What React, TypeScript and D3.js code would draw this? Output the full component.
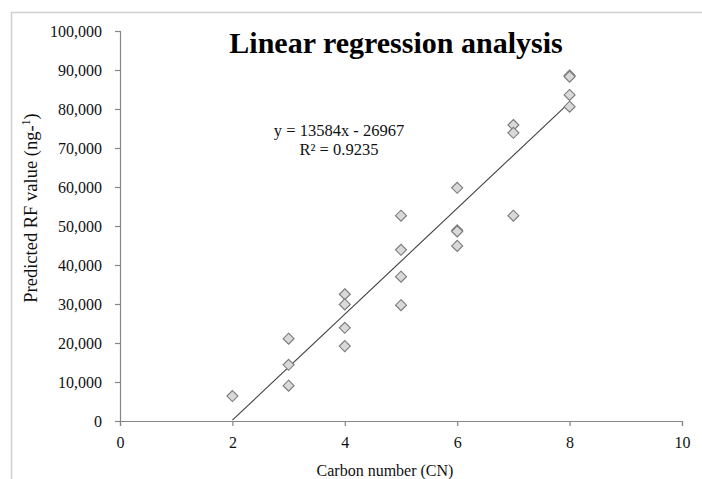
import React, { useEffect, useRef } from "react";
import * as d3 from "d3";

// carbon number of each compound and its predicted RF value
const carbonNumbers = [2, 3, 3, 3, 4, 4, 4, 4, 5, 5, 5, 5, 6, 6, 6, 6, 7, 7, 7, 8, 8, 8, 8];
const rfValues = [
  6400, 21100, 14400, 9050, 32500, 29900, 23900, 19200, 52650, 43900, 37000, 29700,
  59800, 48900, 48600, 44900, 75900, 73900, 52650, 88600, 88300, 83600, 80600,
];

// trend line (from the chart's equation)
const slope = 13584;
const intercept = -26967;
const fitRange = [2, 8];
const equationLines = ["y = 13584x - 26967", "R² = 0.9235"];

const xTicks = [0, 2, 4, 6, 8, 10];
const yTicks = [0, 10000, 20000, 30000, 40000, 50000, 60000, 70000, 80000, 90000, 100000];

const title = "Linear regression analysis";
const xTitle = "Carbon number (CN)";
const yTitle = "Predicted RF value (ng-";

const FONT = "'Liberation Serif', 'Times New Roman', serif";

const App = () => {
  const ref = useRef<SVGSVGElement>(null);

  useEffect(() => {
    const svg = d3.select(ref.current);
    svg.selectAll("*").remove();

    const width = 702;
    const height = 479;
    const margin = { top: 31, right: 20, bottom: 58, left: 120 };

    svg.attr("width", width).attr("height", height);

    svg.append("rect").attr("width", width).attr("height", height).attr("fill", "#fff");

    // outer chart frame (cut off on the right and bottom)
    svg.append("path")
      .attr("d", `M11.5,${height} L11.5,12.5 L${width},12.5`)
      .attr("fill", "none")
      .attr("stroke", "#d0d0d0")
      .attr("stroke-width", 1.5);

    const x = d3.scaleLinear().domain([0, 10]).range([margin.left, 682]);
    const y = d3.scaleLinear().domain([0, 100000]).range([421, margin.top]);

    const yAxis = svg.append("g")
      .attr("transform", `translate(${x(0)},0)`)
      .call(d3.axisLeft(y).tickValues(yTicks).tickFormat(d3.format(",")).tickSize(5).tickPadding(13));

    const xAxis = svg.append("g")
      .attr("transform", `translate(0,${y(0)})`)
      .call(d3.axisBottom(x).tickValues(xTicks).tickFormat(d3.format("d")).tickSize(5).tickPadding(11));

    [xAxis, yAxis].forEach(g => {
      g.select(".domain").attr("stroke", "#868686").attr("stroke-width", 1.2);
      g.selectAll(".tick line").attr("stroke", "#868686").attr("stroke-width", 1.2);
      g.selectAll(".tick text")
        .attr("font-family", FONT)
        .attr("font-size", 16)
        .attr("fill", "#111");
    });

    // regression line
    svg.append("line")
      .attr("x1", x(fitRange[0]))
      .attr("y1", y(slope * fitRange[0] + intercept))
      .attr("x2", x(fitRange[1]))
      .attr("y2", y(slope * fitRange[1] + intercept))
      .attr("stroke", "#404040")
      .attr("stroke-width", 1.1);

    // diamond markers
    const r = 5.5;
    const diamond = `M0,${-r} L${r},0 L0,${r} L${-r},0 Z`;
    svg.selectAll("path.pt")
      .data(carbonNumbers.map((c, i) => ({ c, v: rfValues[i] })))
      .enter()
      .append("path")
      .attr("class", "pt")
      .attr("d", diamond)
      .attr("transform", d => `translate(${x(d.c)},${y(d.v)})`)
      .attr("fill", "#d9d9d9")
      .attr("stroke", "#7a7a7a")
      .attr("stroke-width", 1.1);

    // equation
    svg.append("g")
      .selectAll("text")
      .data(equationLines)
      .enter()
      .append("text")
      .attr("x", 339)
      .attr("y", (d, i) => 136 + i * 18.5)
      .attr("text-anchor", "middle")
      .attr("font-family", FONT)
      .attr("font-size", 16.5)
      .attr("fill", "#111")
      .text(d => d);

    // title
    svg.append("text")
      .attr("x", 396)
      .attr("y", 53)
      .attr("text-anchor", "middle")
      .attr("font-family", FONT)
      .attr("font-size", 30)
      .attr("font-weight", "bold")
      .attr("fill", "#000")
      .text(title);

    // axis titles
    svg.append("text")
      .attr("x", 385)
      .attr("y", 476)
      .attr("text-anchor", "middle")
      .attr("font-family", FONT)
      .attr("font-size", 16)
      .attr("fill", "#111")
      .text(xTitle);

    const yt = svg.append("text")
      .attr("transform", `translate(37,${208}) rotate(-90)`)
      .attr("text-anchor", "middle")
      .attr("font-family", FONT)
      .attr("font-size", 18.5)
      .attr("fill", "#111");
    yt.append("tspan").text(yTitle);
    yt.append("tspan").attr("baseline-shift", "super").attr("font-size", 12).text("1");
    yt.append("tspan").text(")");
  }, []);

  return <svg ref={ref} style={{ position: "absolute", left: 0, top: 0 }}></svg>;
};

export default App;
